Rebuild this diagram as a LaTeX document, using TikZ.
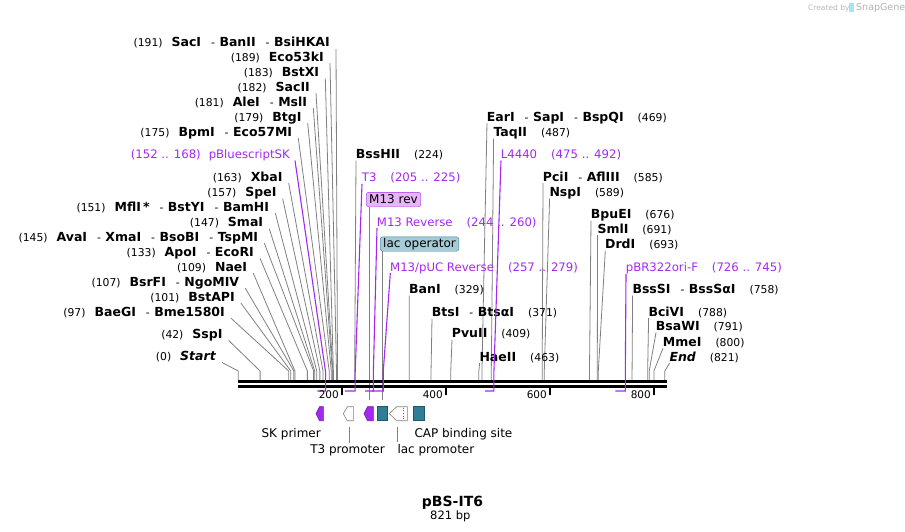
\documentclass[tikz,border=0pt]{standalone}
\usepackage{fontspec}
\setmainfont{DejaVu Sans}
\definecolor{prim}{RGB}{163,40,240}
\definecolor{pinkbox}{RGB}{230,180,247}
\definecolor{opfill}{RGB}{166,203,214}
\definecolor{opline}{RGB}{64,128,148}
\definecolor{featteal}{RGB}{46,126,152}
\newcommand\nm[1]{{\fontsize{12.5}{15}\selectfont\bfseries #1}}
\newcommand\nr[1]{{\fontsize{10.8}{13}\selectfont #1}}
\newcommand\sep{\nr{\hspace{10pt}-\hspace{4.5pt}}}
\newcommand\lsite[4]{\coordinate (s#1) at ({238.3+0.5195*#1},380);
\node[llab] (l#1) at (#2,#3) {\nr{(#1)}\hspace{9pt}#4};
\draw[cut] ([shift={(6,2)}]l#1.base east) -- ([yshift=9pt]s#1) -- (s#1);}
\newcommand\rsite[4]{\coordinate (s#1) at ({238.3+0.5195*#1},380);
\node[rlab] (r#1) at (#2,#3) {#4\hspace{14pt}\nr{(#1)}};
\draw[cut] ([shift={(0.3,2)}]r#1.base west) -- ([yshift=9pt]s#1) -- (s#1);}
\tikzset{lab/.style={inner sep=0pt},llab/.style={lab,anchor=base east},
rlab/.style={lab,anchor=base west},cut/.style={draw=black!50,line width=0.8pt},
plab/.style={lab,text=prim,font=\fontsize{11.7}{14}\selectfont},
pline/.style={draw=prim,line width=1.1pt},
fbox/.style={rounded corners=2.5pt,inner xsep=3pt,inner ysep=0pt,minimum height=14.4pt,anchor=west,font=\fontsize{12}{14}\selectfont},
flab/.style={lab,font=\fontsize{12}{14}\selectfont}}
\begin{document}
\begin{tikzpicture}[x=1pt,y=-1pt]
\useasboundingbox (0,0) rectangle (905,531);
\lsite{191}{330}{46.8}{\nm{SacI}\sep\nm{BanII}\sep\nm{BsiHKAI}}
\lsite{189}{324}{61.2}{\nm{Eco53kI}}
\lsite{183}{319.3}{76.5}{\nm{BstXI}}
\lsite{182}{310}{91.2}{\nm{SacII}}
\lsite{181}{307.3}{106.2}{\nm{AleI}\sep\nm{MslI}}
\lsite{179}{301.7}{121.2}{\nm{BtgI}}
\lsite{175}{292.3}{136.2}{\nm{BpmI}\sep\nm{Eco57MI}}
\lsite{163}{282.7}{181.2}{\nm{XbaI}}
\lsite{157}{276.7}{196.8}{\nm{SpeI}}
\lsite{151}{269.3}{211.2}{\nm{MflI\,*}\sep\nm{BstYI}\sep\nm{BamHI}}
\lsite{147}{263.3}{226.8}{\nm{SmaI}}
\lsite{145}{258.3}{241.2}{\nm{AvaI}\sep\nm{XmaI}\sep\nm{BsoBI}\sep\nm{TspMI}}
\lsite{133}{254}{256.2}{\nm{ApoI}\sep\nm{EcoRI}}
\lsite{109}{247.3}{271.2}{\nm{NaeI}}
\lsite{107}{239.3}{286.2}{\nm{BsrFI}\sep\nm{NgoMIV}}
\lsite{101}{235}{301.2}{\nm{BstAPI}}
\lsite{97}{225}{316.2}{\nm{BaeGI}\sep\nm{Bme1580I}}
\lsite{42}{222.7}{338.5}{\nm{SspI}}
\lsite{0}{216}{360.5}{\nm{\itshape Start}}
\rsite{469}{486.7}{121.2}{\nm{EarI}\sep\nm{SapI}\sep\nm{BspQI}}
\rsite{487}{493.3}{136.5}{\nm{TaqII}}
\rsite{224}{355.7}{158.5}{\nm{BssHII}}
\rsite{585}{542.7}{181.2}{\nm{PciI}\sep\nm{AflIII}}
\rsite{589}{549.3}{196.5}{\nm{NspI}}
\rsite{676}{590.7}{218.5}{\nm{BpuEI}}
\rsite{691}{597.3}{233.2}{\nm{SmlI}}
\rsite{693}{605}{248.5}{\nm{DrdI}}
\rsite{329}{409}{293.5}{\nm{BanI}}
\rsite{758}{632.3}{293.5}{\nm{BssSI}\sep\nm{BssSαI}}
\rsite{371}{431.7}{316.8}{\nm{BtsI}\sep\nm{BtsαI}}
\rsite{788}{648.3}{316.2}{\nm{BciVI}}
\rsite{791}{655.7}{330.5}{\nm{BsaWI}}
\rsite{409}{451.7}{337.8}{\nm{PvuII}}
\rsite{800}{662.7}{346.2}{\nm{MmeI}}
\rsite{463}{479.3}{361.2}{\nm{HaeII}}
\rsite{821}{669.3}{361.2}{\nm{\itshape End}}
\coordinate (fm13) at (369.3,400);
\coordinate (flo) at (382.7,400);
\node[fbox,draw=prim,fill=pinkbox] (m13) at (366,199.5) {M13 rev};
\node[fbox,draw=opline,fill=opfill] (lacop) at (380,244) {lac operator};
\draw[cut] ([xshift=3.3pt]m13.south west) -- (fm13);
\draw[cut] ([xshift=2.7pt]lacop.south west) -- (flo);
\draw[line width=3pt] (238,381.7) -- (667,381.7);
\draw[line width=3pt] (238,386.7) -- (667,386.7);
\coordinate (esk) at ({238.3+0.5195*168},391); \coordinate (bsk) at ({238.3+0.5195*152},391);
\coordinate (et3) at ({238.3+0.5195*225},391); \coordinate (bt3) at ({238.3+0.5195*205},391);
\coordinate (emr) at ({238.3+0.5195*260},391); \coordinate (bmr) at ({238.3+0.5195*244},391);
\coordinate (epu) at ({238.3+0.5195*279},391); \coordinate (bpu) at ({238.3+0.5195*257},391);
\coordinate (el4) at ({238.3+0.5195*492},391); \coordinate (bl4) at ({238.3+0.5195*475},391);
\coordinate (eori) at ({238.3+0.5195*745},391); \coordinate (bori) at ({238.3+0.5195*726},391);
\node[plab,anchor=base east] (psk) at (290,158.5) {(152 .. 168)\hspace{8pt}pBluescriptSK};
\node[plab,anchor=base west] (pt3) at (361.7,181.8) {T3\hspace{14pt}(205 .. 225)};
\node[plab,anchor=base west] (pmr) at (376.7,226.2) {M13 Reverse\hspace{14pt}(244 .. 260)};
\node[plab,anchor=base west] (ppu) at (390,271.2) {M13/pUC Reverse\hspace{14pt}(257 .. 279)};
\node[plab,anchor=base west] (pl4) at (500.7,158.5) {L4440\hspace{14pt}(475 .. 492)};
\node[plab,anchor=base west] (pori) at (625.7,271.8) {pBR322ori-F\hspace{14pt}(726 .. 745)};
\draw[pline] ([shift={(5,2)}]psk.base east) -- ([yshift=19pt]esk) -- (esk) -- (bsk);
\draw[pline] ([shift={(0.3,2)}]pt3.base west) -- ([yshift=19pt]et3) -- (et3) -- (bt3);
\draw[pline] ([shift={(0.3,2)}]pmr.base west) -- ([yshift=19pt]emr) -- (emr) -- (bmr);
\draw[pline] ([shift={(0.3,2)}]ppu.base west) -- ([yshift=19pt]epu) -- (epu) -- (bpu);
\draw[pline] ([shift={(0.3,2)}]pl4.base west) -- ([yshift=19pt]el4) -- (el4) -- (bl4);
\draw[pline] ([shift={(0.3,2)}]pori.base west) -- ([yshift=19pt]eori) -- (eori) -- (bori);
\draw[line width=2pt] (342.2,387.5) -- (342.2,394.5) (446.1,387.5) -- (446.1,394.5)
(550,387.5) -- (550,394.5) (653.9,387.5) -- (653.9,394.5);
\node[lab,anchor=base east,font=\fontsize{10.5}{12}\selectfont] (t200) at (339,398.5) {200};
\node[lab,anchor=base east,font=\fontsize{10.5}{12}\selectfont] (t400) at (443,398.5) {400};
\node[lab,anchor=base east,font=\fontsize{10.5}{12}\selectfont] (t600) at (547,398.5) {600};
\node[lab,anchor=base east,font=\fontsize{10.5}{12}\selectfont] (t800) at (651,398.5) {800};
\filldraw[fill=prim,draw=prim!70!black,line width=0.6pt] (323.3,406.7) -- (319.5,406.7) -- (316,413.7) -- (319.5,420.7) -- (323.3,420.7) -- cycle;
\filldraw[fill=white,draw=black!50,line width=0.6pt] (353.3,406.7) -- (347.3,406.7) -- (343.3,413.7) -- (347.3,420.7) -- (353.3,420.7) -- cycle;
\filldraw[fill=prim,draw=prim!70!black,line width=0.6pt] (373.3,406.7) -- (367.5,406.7) -- (364,413.7) -- (367.5,420.7) -- (373.3,420.7) -- cycle;
\filldraw[fill=featteal,draw=featteal!70!black,line width=0.6pt] (377,406.7) rectangle (387,420.7);
\filldraw[fill=white,draw=black!50,line width=0.6pt] (407.3,406.7) -- (396.7,406.7) -- (389.3,413.7) -- (396.7,420.7) -- (407.3,420.7) -- cycle;
\draw[black!60,line width=0.7pt,dotted] (403.5,407.5) -- (403.5,420);
\filldraw[fill=featteal,draw=featteal!70!black,line width=0.6pt] (413,406.7) rectangle (424,420.7);
\coordinate (ft3) at (349,427); \coordinate (flp) at (397.7,427);
\node[flab,anchor=base east] (skp) at (321,437.8) {SK primer};
\node[flab,anchor=base] (t3p) at (347.5,453.8) {T3 promoter};
\node[flab,anchor=base west] (lacp) at (397.3,453.8) {lac promoter};
\node[flab,anchor=base west] (cap) at (414.3,437.8) {CAP binding site};
\draw[cut] (ft3) -- ([yshift=2pt]ft3 |- t3p.north);
\draw[cut] (flp) -- ([yshift=2pt]flp |- lacp.north);
\node[lab,anchor=base,font=\fontsize{14}{16}\selectfont\bfseries] (title) at (452.5,506.3) {pBS-IT6};
\node[lab,anchor=base,font=\fontsize{11.5}{13}\selectfont] (len) at (450.3,519.3) {821 bp};
\node[lab,anchor=base west,text=black!28,font=\fontsize{7.5}{9}\selectfont] (wm) at (808,10) {Created by};
\fill[cyan!35] (849,3) rectangle (853.5,12);
\node[lab,anchor=base west,text=black!30,font=\fontsize{9.5}{11}\selectfont] (sg) at (856,10.5) {SnapGene};
\end{tikzpicture}
\end{document}
